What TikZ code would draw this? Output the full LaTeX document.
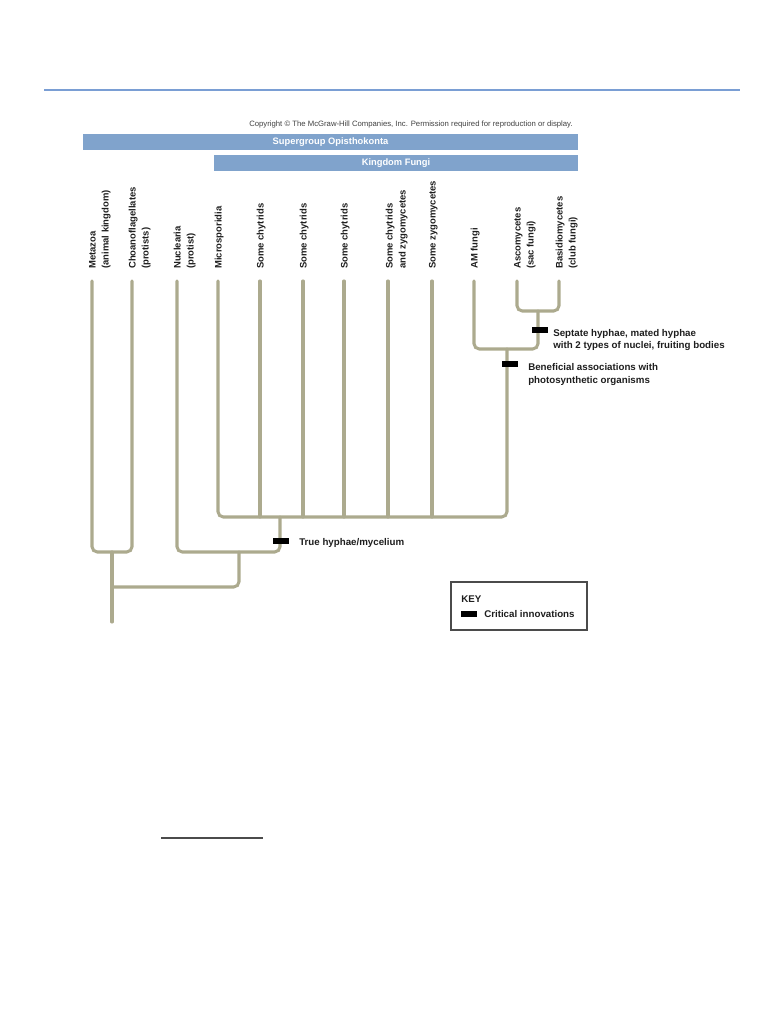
\documentclass[tikz,border=0pt]{standalone}
\usepackage{fontspec}
\setmainfont{Liberation Sans}
\definecolor{topblue}{RGB}{122,158,212}
\definecolor{barblue}{RGB}{128,163,204}
\definecolor{branchc}{RGB}{172,170,142}
\definecolor{textc}{RGB}{30,30,30}
\begin{document}
\begin{tikzpicture}[x=0.75pt,y=-0.75pt,
  branch/.style={draw=branchc, line width=2.3pt, rounded corners=4pt, line cap=round},
  lbl/.style={rotate=90, anchor=mid west, font=\bfseries\fontsize{7.1}{8}\selectfont, inner sep=0pt, text=textc},
  marker/.style={fill=black, draw=none, minimum width=12pt, minimum height=4.5pt, inner sep=0pt},
  note/.style={anchor=mid west, font=\bfseries\fontsize{7.3}{8}\selectfont, inner sep=0pt, text=textc},
  barbox/.style={fill=barblue, draw=none, inner sep=0pt},
  bartext/.style={font=\bfseries\fontsize{7}{8}\selectfont, text=white, inner sep=0pt}
]
\useasboundingbox (0,0) rectangle (784,1015);

% top rule
\draw[topblue, line width=1.5pt] (44,90) -- (740,90);

% copyright
\node[font=\fontsize{5.8}{6}\selectfont, text=textc!85, inner sep=0pt] (copy) at (411,124)
  {Copyright \textcopyright{} The McGraw-Hill Companies, Inc. Permission required for reproduction or display.};

% bars
\node[barbox, minimum width=371.25pt, minimum height=12pt] (superbar) at (330.5,142) {};
\node[bartext] (supertxt) at (superbar.center) {Supergroup Opisthokonta};
\node[barbox, minimum width=273pt, minimum height=12pt] (fungibar) at (396,163) {};
\node[bartext] (fungitxt) at (fungibar.center) {Kingdom Fungi};

% labels
\node[lbl] (l1a) at (92,269) {Metazoa};
\node[lbl] (l1b) at (105,269) {(animal kingdom)};
\node[lbl] (l2a) at (132,269) {Choanoflagellates};
\node[lbl] (l2b) at (145,269) {(protists)};
\node[lbl] (l3a) at (177,269) {Nuclearia};
\node[lbl] (l3b) at (190,269) {(protist)};
\node[lbl] (l4) at (218,269) {Microsporidia};
\node[lbl] (l5) at (260,269) {Some chytrids};
\node[lbl] (l6) at (303,269) {Some chytrids};
\node[lbl] (l7) at (344,269) {Some chytrids};
\node[lbl] (l8a) at (389,269) {Some chytrids};
\node[lbl] (l8b) at (402,269) {and zygomycetes};
\node[lbl] (l9) at (432,269) {Some zygomycetes};
\node[lbl] (l10) at (474,269) {AM fungi};
\node[lbl] (l11a) at (517,269) {Ascomycetes};
\node[lbl] (l11b) at (530,269) {(sac fungi)};
\node[lbl] (l12a) at (559,269) {Basidiomycetes};
\node[lbl] (l12b) at (572,269) {(club fungi)};

% tips
\coordinate (tm) at (92,281);
\coordinate (tc) at (132,281);
\coordinate (tn) at (177,281);
\coordinate (tmi) at (218,281);
\coordinate (ts1) at (260,281);
\coordinate (ts2) at (303,281);
\coordinate (ts3) at (344,281);
\coordinate (ts4) at (388,281);
\coordinate (tz) at (432,281);
\coordinate (tam) at (474,281);
\coordinate (tas) at (517,281);
\coordinate (tba) at (559,281);

% junctions
\coordinate (jab) at (538,311);
\coordinate (jdk) at (507,349);
\coordinate (jfu) at (280,517);
\coordinate (jnf) at (239,552);
\coordinate (jmc) at (112,552);
\coordinate (jop) at (112,587);
\coordinate (root) at (112,622);

% tree
\draw[branch] (tas) |- (jab) -| (tba);
\draw[branch] (tam) |- (jdk) -| (jab);
\draw[branch] (tmi) |- (jfu) -| (jdk);
\draw[branch] (ts1) -- (ts1 |- jfu);
\draw[branch] (ts2) -- (ts2 |- jfu);
\draw[branch] (ts3) -- (ts3 |- jfu);
\draw[branch] (ts4) -- (ts4 |- jfu);
\draw[branch] (tz) -- (tz |- jfu);
\draw[branch] (tn) |- (jnf) -| (jfu);
\draw[branch] (tm) |- (jmc) -| (tc);
\draw[branch] (jmc) -- (root);
\draw[branch] (jop) -| (jnf);

% innovations
\node[marker] (m1) at (281,541) {};
\node[note] (n1) at (299,542) {True hyphae/mycelium};
\node[marker] (m2) at (540,330) {};
\node[note] (n2a) at (553,333) {Septate hyphae, mated hyphae};
\node[note] (n2b) at (553,345) {with 2 types of nuclei, fruiting bodies};
\node[marker] (m3) at (510,364) {};
\node[note] (n3a) at (528,367) {Beneficial associations with};
\node[note] (n3b) at (528,380) {photosynthetic organisms};

% key
\draw[textc!80, line width=0.8pt] (451,582) rectangle (587,630);
\node[note] (keyt) at (461,599) {KEY};
\node[marker] (km) at (469,614) {};
\node[note] (keyl) at (484,614) {Critical innovations};

% bottom rule
\draw[textc!80, line width=0.8pt] (161,838) -- (263,838);
\end{tikzpicture}
\end{document}
